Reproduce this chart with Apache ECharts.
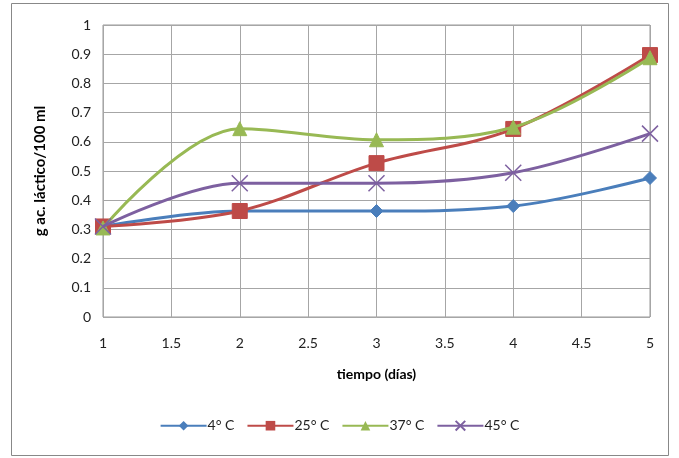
<!DOCTYPE html>
<html><head><meta charset="utf-8">
<script src="https://cdn.jsdelivr.net/npm/echarts@6/dist/echarts.min.js"></script>
<style>html,body{margin:0;padding:0;background:#fff}#c{width:679px;height:458px}</style>
</head><body><div id="c"></div>
<script>
const days = [1, 2, 3, 4, 5];
const seriesNames = ['4° C', '25° C', '37° C', '45° C'];
const v4 = [0.31, 0.363, 0.363, 0.38, 0.476];
const v25 = [0.31, 0.363, 0.527, 0.644, 0.897];
const v37 = [0.305, 0.645, 0.607, 0.65, 0.888];
const v45 = [0.31, 0.458, 0.458, 0.494, 0.628];
const xTicks = [1, 1.5, 2, 2.5, 3, 3.5, 4, 4.5, 5];
const yTicks = [0, 0.1, 0.2, 0.3, 0.4, 0.5, 0.6, 0.7, 0.8, 0.9, 1];

const colors = ['#4A7EBB', '#BE4B48', '#98B954', '#7D60A0'];
const symbols = ['diamond', 'rect', 'triangle', 'path://M0,0L10,10M10,0L0,10'];
const sizes = [13, 15, 14, 16];
const vals = [v4, v25, v37, v45];
const font = 'Lato, "Open Sans", sans-serif';

const chart = echarts.init(document.getElementById('c'));
chart.setOption({
  animation: false,
  graphic: [{type: 'rect', shape: {x: 11.5, y: 3.5, width: 657, height: 452}, style: {fill: 'none', stroke: '#888', lineWidth: 1}, z: -1}],
  grid: {left: 103, right: 29, top: 25, bottom: 141, show: true, borderColor: '#999', borderWidth: 1},
  xAxis: {
    type: 'value', min: 1, max: 5, interval: 0.5,
    name: 'tiempo (días)', nameLocation: 'middle', nameGap: 50,
    nameTextStyle: {fontFamily: font, fontSize: 14, fontWeight: 'bold', color: '#000'},
    axisLine: {show: false}, axisTick: {show: false},
    axisLabel: {fontFamily: font, fontSize: 14, color: '#222', margin: 19, formatter: v => String(v)},
    splitLine: {show: true, lineStyle: {color: '#a6a6a6', width: 1}}
  },
  yAxis: {
    type: 'value', min: 0, max: 1, interval: 0.1,
    name: 'g ac. láctico/100 ml', nameLocation: 'middle', nameGap: 55,
    nameTextStyle: {fontFamily: font, fontSize: 15, fontWeight: 'bold', color: '#000'},
    axisLine: {show: false}, axisTick: {show: false},
    axisLabel: {fontFamily: font, fontSize: 14, color: '#222', margin: 12, formatter: v => String(Math.round(v * 10) / 10)},
    splitLine: {show: true, lineStyle: {color: '#a6a6a6', width: 1}}
  },
  legend: {
    bottom: 20, left: 'center', itemWidth: 46, itemHeight: 12, itemGap: 12,
    textStyle: {fontFamily: font, fontSize: 14, color: '#222', padding: [0, 0, 0, -4]},
    data: seriesNames
  },
  series: seriesNames.map((n, i) => ({
    name: n, type: 'line', smooth: 0.35,
    data: days.map((d, k) => [d, vals[i][k]]),
    symbol: symbols[i], symbolSize: sizes[i],
    lineStyle: {color: colors[i], width: 3},
    itemStyle: i === 3 ? {color: 'none', borderColor: colors[i], borderWidth: 1.5} : {color: colors[i], borderColor: colors[i]},
    color: colors[i],
    z: 2 + i
  }))
});
</script></body></html>
